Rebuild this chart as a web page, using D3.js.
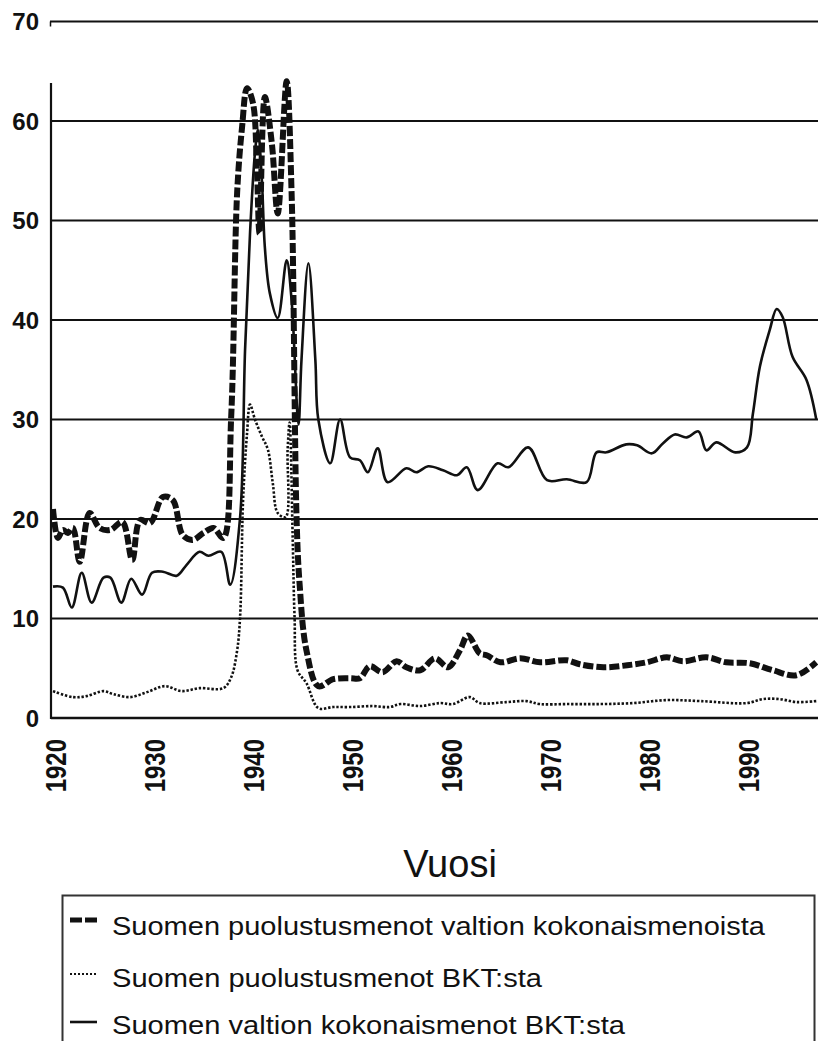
<!DOCTYPE html>
<html>
<head>
<meta charset="utf-8">
<script src="https://cdn.jsdelivr.net/npm/d3@7"></script>
<style>
  html, body { margin: 0; padding: 0; background: #fff; }
  svg { display: block; }
  text { font-family: "Liberation Sans", Arial, Helvetica, sans-serif; fill: #111; }
</style>
</head>
<body>
<svg id="chart" width="818" height="1041"></svg>
<script>
// ---- Data (year, percent) ----
const yTicks = [0, 10, 20, 30, 40, 50, 60, 70];
const xTicks = [1920, 1930, 1940, 1950, 1960, 1970, 1980, 1990];
const axisTitle = "Vuosi";
const seriesNames = [
  "Suomen puolustusmenot valtion kokonaismenoista",
  "Suomen puolustusmenot BKT:sta",
  "Suomen valtion kokonaismenot BKT:sta"
];

// Defence spending as share of total state spending (dashed)
const defenceShareOfBudget = [
  [1920.0, 21.0], [1920.5, 18.1], [1921.0, 18.9], [1921.5, 18.6], [1922.0, 19.1],
  [1922.7, 15.7], [1923.7, 20.6], [1924.7, 19.1], [1925.8, 18.9], [1927.0, 19.7],
  [1928.0, 15.9], [1928.8, 19.9], [1929.8, 19.6], [1931.1, 22.2], [1932.1, 21.9],
  [1933.1, 18.4], [1934.1, 17.9], [1935.2, 18.6], [1936.2, 19.1], [1937.2, 18.1],
  [1938.0, 30.3], [1938.6, 52.8], [1939.1, 59.4], [1939.6, 63.3], [1940.2, 61.8],
  [1940.6, 55.0], [1940.85, 48.7], [1941.4, 62.4], [1942.1, 57.8], [1942.7, 50.7],
  [1943.6, 64.0], [1944.1, 52.8], [1944.6, 20.2], [1944.9, 13.6], [1945.6, 6.8],
  [1946.8, 3.2], [1948.3, 3.9], [1950.0, 4.0], [1951.0, 4.0], [1952.0, 5.2],
  [1953.3, 4.6], [1954.7, 5.7], [1955.7, 5.1], [1957.1, 4.8], [1958.6, 6.0],
  [1959.9, 5.1], [1961.1, 6.8], [1961.9, 8.3], [1963.1, 6.5], [1963.8, 6.3],
  [1965.2, 5.6], [1967.2, 6.0], [1969.2, 5.6], [1971.9, 5.8], [1973.2, 5.4],
  [1975.6, 5.1], [1978.0, 5.3], [1980.0, 5.6], [1982.0, 6.1], [1983.6, 5.7],
  [1986.0, 6.1], [1988.0, 5.6], [1990.4, 5.5], [1992.7, 4.8], [1995.1, 4.3],
  [1997.1, 5.6]
];

// Defence spending as share of GDP (dotted)
const defenceShareOfGdp = [
  [1920.0, 2.7], [1922.0, 2.1], [1923.4, 2.2], [1925.1, 2.7], [1926.1, 2.4],
  [1927.8, 2.1], [1929.5, 2.6], [1931.3, 3.2], [1933.0, 2.7], [1934.8, 3.0],
  [1937.2, 3.0], [1938.0, 4.1], [1938.6, 6.8], [1938.9, 10.2], [1939.2, 21.9],
  [1939.6, 28.6], [1939.9, 31.5], [1940.4, 30.0], [1941.1, 28.3], [1941.7, 27.0],
  [1942.2, 23.6], [1942.7, 20.6], [1943.5, 20.2], [1943.7, 27.0], [1943.9, 29.7],
  [1944.2, 18.6], [1944.4, 10.2], [1944.7, 4.8], [1945.6, 3.5], [1946.8, 1.0],
  [1948.3, 1.1], [1950.0, 1.1], [1952.3, 1.2], [1954.0, 1.1], [1955.1, 1.4],
  [1957.1, 1.2], [1959.1, 1.5], [1960.4, 1.4], [1962.1, 2.1], [1963.1, 1.5],
  [1965.8, 1.6], [1967.8, 1.7], [1969.2, 1.4], [1971.9, 1.4], [1975.3, 1.4],
  [1978.6, 1.5], [1982.0, 1.8], [1985.4, 1.7], [1990.1, 1.5], [1991.7, 1.9],
  [1993.4, 1.9], [1995.1, 1.6], [1997.1, 1.7]
];

// Total state spending as share of GDP (solid)
const stateSpendingShareOfGdp = [
  [1920.0, 13.2], [1921.0, 13.1], [1921.9, 11.1], [1922.9, 14.6], [1923.9, 11.6],
  [1925.1, 14.1], [1925.8, 14.1], [1926.9, 11.6], [1927.9, 14.0], [1929.0, 12.4],
  [1930.0, 14.6], [1931.1, 14.7], [1932.5, 14.3], [1933.5, 15.4], [1934.8, 16.7],
  [1935.7, 16.3], [1937.0, 16.7], [1937.9, 13.4], [1938.9, 20.2], [1939.4, 37.0],
  [1939.9, 48.7], [1940.4, 56.8], [1940.7, 59.1], [1941.1, 54.0], [1941.4, 47.3],
  [1941.9, 42.7], [1942.7, 40.2], [1943.6, 46.0], [1944.1, 42.0], [1944.8, 29.5],
  [1945.1, 36.0], [1945.8, 45.7], [1946.5, 36.0], [1946.8, 30.0], [1948.0, 25.6],
  [1949.0, 30.0], [1950.0, 26.2], [1951.0, 25.9], [1951.8, 24.7], [1952.8, 27.1],
  [1953.8, 23.7], [1955.7, 25.1], [1956.7, 24.7], [1957.9, 25.3], [1959.4, 24.9],
  [1960.8, 24.4], [1961.8, 25.2], [1962.9, 22.9], [1964.9, 25.6], [1966.0, 25.2],
  [1968.0, 27.2], [1969.9, 23.9], [1971.9, 24.0], [1973.9, 23.7], [1974.9, 26.7],
  [1975.9, 26.7], [1977.9, 27.5], [1979.0, 27.4], [1980.5, 26.6], [1981.6, 27.6],
  [1982.8, 28.5], [1984.0, 28.2], [1985.2, 28.8], [1986.0, 26.9], [1987.0, 27.7],
  [1988.9, 26.7], [1990.1, 27.2], [1990.7, 30.6], [1991.4, 35.3], [1992.4, 39.0],
  [1993.1, 41.1], [1993.7, 40.3], [1994.7, 36.3], [1996.1, 34.0], [1997.1, 30.0]
];

// ---- Drawing ----
const svg = d3.select("#chart");
const ink = "#111";

const x = d3.scaleLinear().domain([1920, 1990]).range([53, 746]);
const y = d3.scaleLinear().domain([0, 70]).range([718, 21.5]);

const plotLeft = 51, plotRight = 818;

// horizontal grid lines
const grid = svg.append("g");
yTicks.filter(t => t > 0).forEach(t => {
  grid.append("line")
    .attr("x1", t === 70 ? plotLeft - 1 : plotLeft).attr("x2", plotRight)
    .attr("y1", y(t)).attr("y2", y(t))
    .attr("stroke", ink).attr("stroke-width", 1.9);
});
// tiny tick at the top-left of the 70 line
grid.append("line")
  .attr("x1", plotLeft - 0.5).attr("x2", plotLeft - 0.5)
  .attr("y1", y(70)).attr("y2", y(70) + 5)
  .attr("stroke", ink).attr("stroke-width", 1.5);

// vertical axis (broken at the top)
svg.append("line")
  .attr("x1", plotLeft).attr("x2", plotLeft)
  .attr("y1", 83).attr("y2", y(0) + 1)
  .attr("stroke", ink).attr("stroke-width", 2.2);
// baseline
svg.append("line")
  .attr("x1", plotLeft).attr("x2", plotRight)
  .attr("y1", y(0)).attr("y2", y(0))
  .attr("stroke", ink).attr("stroke-width", 2.4);

// y tick labels
svg.append("g").selectAll("text").data(yTicks).join("text")
  .attr("x", 39).attr("y", d => y(d))
  .attr("dy", "0.36em")
  .attr("text-anchor", "end")
  .attr("font-size", 24).attr("font-weight", "bold")
  .text(d => d);

// x tick labels (rotated)
svg.append("g").selectAll("text").data(xTicks).join("text")
  .attr("transform", d => `translate(${x(d) + 2.5},739) rotate(-90) scale(1,1.2)`)
  .attr("dy", "0.36em")
  .attr("text-anchor", "end")
  .attr("font-size", 24).attr("font-weight", "bold")
  .text(d => d);

// lines
const line = d3.line()
  .x(d => x(d[0]))
  .y(d => y(d[1]))
  .curve(d3.curveCatmullRom.alpha(0.5));

const plot = svg.append("g");
plot.append("path").datum(stateSpendingShareOfGdp)
  .attr("d", line).attr("fill", "none")
  .attr("stroke", ink).attr("stroke-width", 2.6).attr("stroke-linejoin", "round");
plot.append("path").datum(defenceShareOfGdp)
  .attr("d", line).attr("fill", "none")
  .attr("stroke", ink).attr("stroke-width", 2.6).attr("stroke-dasharray", "2.4,1.8");
plot.append("path").datum(defenceShareOfBudget)
  .attr("d", line).attr("fill", "none")
  .attr("stroke", ink).attr("stroke-width", 6).attr("stroke-dasharray", "10,3");

// axis title
svg.append("text")
  .attr("x", 450).attr("y", 877)
  .attr("text-anchor", "middle")
  .attr("font-size", 38)
  .text(axisTitle);

// legend
const legend = svg.append("g");
legend.append("rect")
  .attr("x", 62.5).attr("y", 895.5)
  .attr("width", 752).attr("height", 200)
  .attr("fill", "none").attr("stroke", "#333").attr("stroke-width", 2);

const legendStyles = [
  { w: 5, dash: "12,3", y: 920, base: 935, len: 653 },
  { w: 1.8, dash: "2,2", y: 974, base: 987, len: 430 },
  { w: 2.6, dash: null, y: 1022, base: 1034, len: 513 }
];
seriesNames.forEach((name, i) => {
  const s = legendStyles[i];
  legend.append("line")
    .attr("x1", 70).attr("x2", 97)
    .attr("y1", s.y).attr("y2", s.y)
    .attr("stroke", ink).attr("stroke-width", s.w)
    .attr("stroke-dasharray", s.dash);
  legend.append("text")
    .attr("x", 112).attr("y", s.base)
    .attr("font-size", 26)
    .attr("textLength", s.len)
    .attr("lengthAdjust", "spacingAndGlyphs")
    .text(name);
});
</script>
</body>
</html>
